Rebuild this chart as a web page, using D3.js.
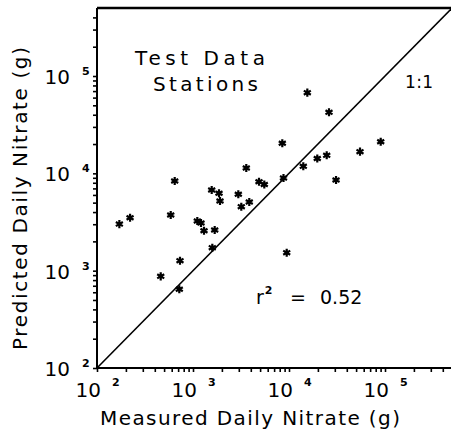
<!DOCTYPE html>
<html>
<head>
<meta charset="utf-8">
<script src="https://cdn.jsdelivr.net/npm/d3@7"></script>
<style>
  html, body { margin: 0; padding: 0; background: #fff; }
  svg { display: block; }
  text { font-family: "DejaVu Sans", "Liberation Sans", sans-serif; fill: #000; }
</style>
</head>
<body>
<svg id="chart" width="451" height="438"></svg>
<script>
// Daily nitrate loads at the test stations (grams)
const measured = [171, 221, 461, 586, 645, 720, 732, 1109, 1211, 1302, 1566, 1589,
  1683, 1866, 1911, 2965, 3185, 3590, 3857, 4870, 5530, 8515, 8765, 9465,
  14090, 15520, 19710, 24700, 26100, 30900, 54900, 90200];
const predicted = [3010, 3500, 875, 3730, 8340, 644, 1266, 3240, 3090, 2574, 6745, 1722,
  2616, 6237, 5198, 6092, 4542, 11350, 5079, 8204, 7678, 20360, 8958, 1530,
  11810, 67400, 14200, 15320, 42370, 8545, 16690, 21130];

const axisDomain = [1e2, 5e5];
const majorTicks = [1e2, 1e3, 1e4, 1e5];
const minorMultipliers = [2, 3, 4, 5, 6, 7, 8, 9];
const titleLines = ["Test Data", "Stations"];
const fitLabel = { r2: "0.52" };
const identityLabel = "1:1";
const xTitle = "Measured Daily Nitrate (g)";
const yTitle = "Predicted Daily Nitrate (g)";

const svg = d3.select("#chart");

const left = 97, bottom = 368;
const x = d3.scaleLog().domain(axisDomain).range([left, left + Math.log10(5000) * 96]);
const y = d3.scaleLog().domain(axisDomain).range([bottom, bottom - Math.log10(5000) * 97.33]);

// every tick position: decades plus 2..9 subdivisions inside the domain
const allTicks = [];
majorTicks.forEach(m => {
  allTicks.push(m);
  minorMultipliers.forEach(k => { if (m * k < axisDomain[1]) allTicks.push(m * k); });
});

// axes (ticks only; frame lines drawn separately)
const gx = svg.append("g").attr("transform", `translate(0,${bottom})`)
  .call(d3.axisBottom(x).tickValues(allTicks).tickSize(4).tickFormat(""));
const gy = svg.append("g").attr("transform", `translate(${left},0)`)
  .call(d3.axisLeft(y).tickValues(allTicks).tickSize(4).tickFormat(""));
[gx, gy].forEach(g => {
  g.select(".domain").remove();
  g.selectAll(".tick line").attr("stroke", "#000").attr("stroke-width", 1.6);
});

// frame: left, bottom, top
const x0 = x(axisDomain[0]), x1 = 451, y0 = y(axisDomain[0]), y1 = y(axisDomain[1]);
svg.append("line").attr("x1", x0).attr("x2", x0).attr("y1", y1).attr("y2", y0)
  .attr("stroke", "#000").attr("stroke-width", 2);
svg.append("line").attr("x1", x0).attr("x2", x1).attr("y1", y0).attr("y2", y0)
  .attr("stroke", "#000").attr("stroke-width", 2);
svg.append("line").attr("x1", x0).attr("x2", x1).attr("y1", y1).attr("y2", y1)
  .attr("stroke", "#000").attr("stroke-width", 2.4);

// power-of-ten tick labels
majorTicks.forEach(v => {
  const e = String(Math.round(Math.log10(v)));
  const px = x(v), py = y(v);
  svg.append("text").attr("x", px + 4).attr("y", bottom + 29)
    .attr("text-anchor", "end").attr("font-size", 20).text("10");
  svg.append("text").attr("x", px + 15).attr("y", bottom + 18)
    .attr("font-size", 11).attr("font-weight", "bold").text(e);
  svg.append("text").attr("x", 70).attr("y", py + 8)
    .attr("text-anchor", "end").attr("font-size", 20).text("10");
  svg.append("text").attr("x", 82).attr("y", py - 1)
    .attr("font-size", 11).attr("font-weight", "bold").text(e);
});

// 1:1 line
svg.append("line")
  .attr("x1", x(axisDomain[0])).attr("y1", y(axisDomain[0]))
  .attr("x2", x(axisDomain[1])).attr("y2", y(axisDomain[1]))
  .attr("stroke", "#000").attr("stroke-width", 1.6);

// station points
const star = d3.symbol().type(d3.symbolAsterisk).size(46);
const pts = svg.append("g").selectAll("g")
  .data(measured.map((m, i) => [m, predicted[i]]))
  .join("g")
  .attr("transform", d => `translate(${x(d[0])},${y(d[1])})`);
pts.append("path").attr("d", star)
  .attr("fill", "none").attr("stroke", "#000").attr("stroke-width", 2.2);
pts.append("circle").attr("r", 2).attr("fill", "#000");

// annotations
svg.append("text").attr("x", 135).attr("y", 65).attr("font-size", 20)
  .attr("textLength", 130).attr("lengthAdjust", "spacing").text(titleLines[0]);
svg.append("text").attr("x", 153).attr("y", 91).attr("font-size", 20)
  .attr("textLength", 105).attr("lengthAdjust", "spacing").text(titleLines[1]);
svg.append("text").attr("x", 405).attr("y", 88).attr("font-size", 17)
  .attr("textLength", 28).attr("lengthAdjust", "spacing").text(identityLabel);

const r2 = svg.append("text").attr("x", 256).attr("y", 304).attr("font-size", 19);
r2.append("tspan").text("r");
r2.append("tspan").attr("font-size", 11).attr("font-weight", "bold").attr("dy", -10).attr("dx", 1).text("2");
r2.append("tspan").attr("dy", 10).attr("x", 290).text("=");
r2.append("tspan").attr("x", 320).text(fitLabel.r2);

// axis titles
svg.append("text").attr("x", 100).attr("y", 425).attr("font-size", 20)
  .attr("textLength", 300).attr("lengthAdjust", "spacing").text(xTitle);
svg.append("text").attr("transform", "translate(27,350) rotate(-90)")
  .attr("font-size", 20).attr("textLength", 303).attr("lengthAdjust", "spacing").text(yTitle);
</script>
</body>
</html>
